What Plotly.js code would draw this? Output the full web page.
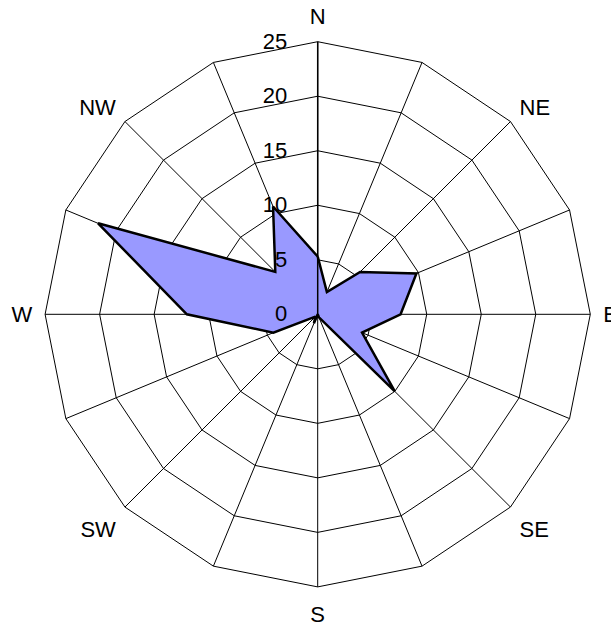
<!DOCTYPE html>
<html>
<head>
<meta charset="utf-8">
<script src="https://cdn.plot.ly/plotly-3.0.1.min.js"></script>
<style>html,body{margin:0;padding:0;background:#fff;}#chart{width:611px;height:625px;}</style>
</head>
<body>
<div id="chart"></div>
<script>
const directions = ['N','NNE','NE','ENE','E','ESE','SE','SSE','S','SSW','SW','WSW','W','WNW','NW','NNW'];
const values = [5.3, 2.2, 5.5, 9.8, 7.6, 4.4, 10.0, 0.3, 0, 0.9, 0.3, 4.4, 12.0, 21.8, 5.5, 10.7];
const tickLabels = ['N','','NE','','E','','SE','','S','','SW','','W','','NW',''];
const radialTicks = [0, 5, 10, 15, 20, 25];

const trace = {
  type: 'scatterpolar',
  r: values.concat([values[0]]),
  theta: directions.concat([directions[0]]),
  mode: 'lines',
  fill: 'toself',
  fillcolor: '#9999FF',
  line: {color: '#000000', width: 2.5},
  hoverinfo: 'skip'
};

const layout = {
  width: 611, height: 625,
  margin: {l: 0, r: 0, t: 0, b: 0},
  paper_bgcolor: '#ffffff',
  showlegend: false,
  font: {family: 'Liberation Sans, Arial, sans-serif', size: 22, color: '#000'},
  polar: {
    domain: {x: [45.1/611, 590.3/611], y: [1 - 586.9/625, 1 - 41.7/625]},
    gridshape: 'linear',
    bgcolor: '#ffffff',
    angularaxis: {
      type: 'category',
      categoryarray: directions,
      direction: 'clockwise',
      rotation: 90,
      tickmode: 'array',
      tickvals: directions,
      ticktext: tickLabels,
      ticks: 'outside',
      ticklen: 8,
      tickcolor: 'rgba(0,0,0,0)',
      showline: true,
      linecolor: '#000',
      linewidth: 1,
      showgrid: true,
      gridcolor: '#000',
      gridwidth: 1,
      tickfont: {size: 22, color: '#000'}
    },
    radialaxis: {
      range: [0, 25],
      tickmode: 'array',
      tickvals: radialTicks,
      ticktext: radialTicks.map(String),
      angle: 90,
      tickangle: 90,
      side: 'counterclockwise',
      ticks: 'outside',
      ticklen: 22,
      tickcolor: 'rgba(0,0,0,0)',
      showline: true,
      linecolor: '#000',
      linewidth: 1.5,
      showgrid: true,
      gridcolor: '#000',
      gridwidth: 1,
      tickfont: {size: 22, color: '#000'}
    }
  }
};

Plotly.newPlot('chart', [trace], layout, {displayModeBar: false, staticPlot: true});
</script>
</body>
</html>
